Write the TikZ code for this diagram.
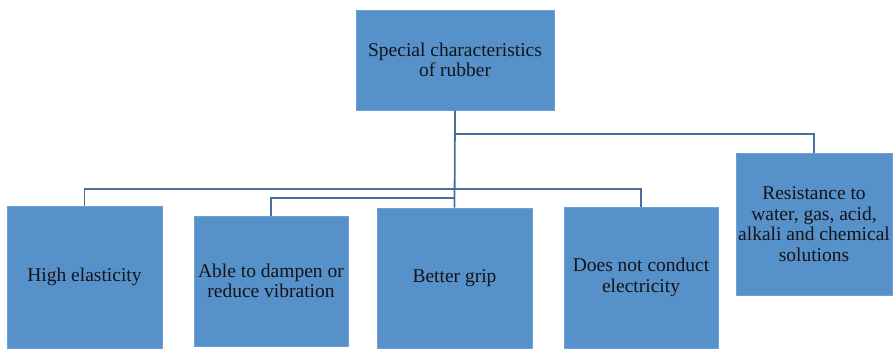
\documentclass[tikz,border=0pt]{standalone}
\usepackage{fontspec}
\setmainfont{Liberation Serif}
\definecolor{boxfill}{RGB}{86,145,202}
\definecolor{boxedge}{RGB}{110,160,215}
\definecolor{linkcol}{RGB}{74,110,160}
\definecolor{txtcol}{RGB}{20,20,25}
\begin{document}
\begin{tikzpicture}[x=1pt,y=-1pt,
  cbox/.style={draw=boxedge,fill=boxfill,line width=0.8pt,inner sep=0pt,
    align=center,text=txtcol,font=\fontsize{19.5}{20.5}\selectfont},
  link/.style={draw=linkcol,line width=1.8pt}]
\useasboundingbox (0,0) rectangle (893,348);
\node[cbox,minimum width=198pt,minimum height=100pt] (top) at (455,60) {Special characteristics\\of rubber};
\node[cbox,minimum width=155pt,minimum height=142pt] (he) at (84.5,277) {High elasticity};
\node[cbox,minimum width=154pt,minimum height=130pt] (able) at (271,281) {Able to dampen or\\reduce vibration};
\node[cbox,minimum width=155pt,minimum height=140pt] (grip) at (454.5,278) {Better grip};
\node[cbox,minimum width=154pt,minimum height=141pt] (dnc) at (641,277.5) {Does not conduct\\electricity};
\node[cbox,minimum width=156pt,minimum height=142pt] (res) at (814,224) {Resistance to\\water, gas, acid,\\alkali and chemical\\solutions};
\coordinate (j1) at (455,134);
\coordinate (j2) at (455,198);
\draw[link] (top.south) -- (grip.north);
\draw[link] (j1) -| (res.north);
\draw[link] (he.north) -- ++(0,-17) -| (dnc.north);
\draw[link] (able.north) |- (j2);
\end{tikzpicture}
\end{document}
